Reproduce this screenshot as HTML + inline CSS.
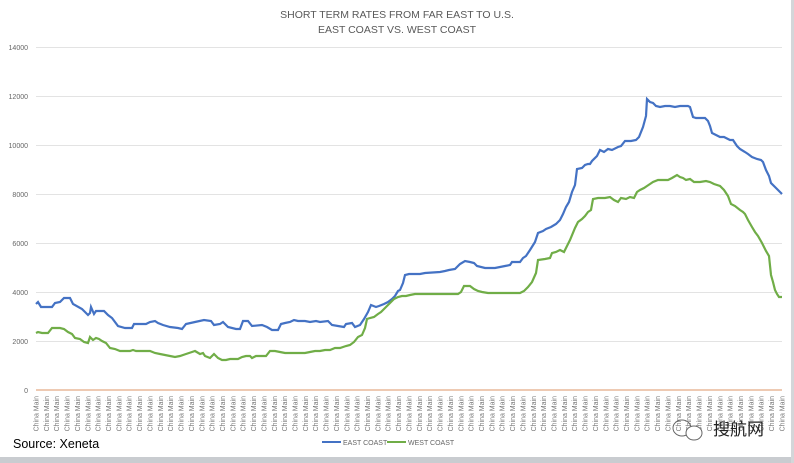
<!DOCTYPE html>
<html><head><style>
body{margin:0;background:#fff;}
svg{display:block;font-family:"Liberation Sans",sans-serif;}
</style></head><body>
<svg width="794" height="463" viewBox="0 0 794 463">
<rect x="0" y="0" width="794" height="463" fill="#fff"/>
<rect x="0" y="457" width="794" height="6" fill="#c9ccd0"/>
<rect x="791" y="0" width="3" height="463" fill="#d4d6d9"/>
<text x="397" y="18" font-size="10.5" fill="#595959" text-anchor="middle">SHORT TERM RATES FROM FAR EAST TO U.S.</text>
<text x="397" y="33" font-size="10.5" fill="#595959" text-anchor="middle">EAST COAST VS. WEST COAST</text>
<g stroke="#e3e3e3" stroke-width="1">
<line x1="36" x2="782" y1="47.5" y2="47.5"/><line x1="36" x2="782" y1="96.5" y2="96.5"/>
<line x1="36" x2="782" y1="145.5" y2="145.5"/><line x1="36" x2="782" y1="194.5" y2="194.5"/>
<line x1="36" x2="782" y1="243.5" y2="243.5"/><line x1="36" x2="782" y1="292.5" y2="292.5"/>
<line x1="36" x2="782" y1="341.5" y2="341.5"/>
</g>
<g font-size="7" fill="#666" text-anchor="end">
<text x="28" y="50">14000</text><text x="28" y="99">12000</text><text x="28" y="148">10000</text>
<text x="28" y="197">8000</text><text x="28" y="246">6000</text><text x="28" y="295">4000</text>
<text x="28" y="344">2000</text><text x="28" y="393">0</text>
</g>
<line x1="36" x2="782" y1="390" y2="390" stroke="#e8b89a" stroke-width="1.5"/>
<polyline fill="none" stroke="#4472c4" stroke-width="2.2" points="36,304 38,302 41,307 52,307 55,303 60,302 64,298 70,298 73,304 82,309 88,315 90,313 91,307 94,314 96,311 104,311 108,315 112,318 118,326 125,328 132,328 134,324 146,324 150,322 155,321 158,323 163,325 170,327 178,328 182,329 186,324 195,322 204,320 211,321 214,325 220,324 223,322 228,327 236,329 240,329 243,321 248,321 252,326 262,325 267,327 272,330 278,330 281,324 285,323 290,322 294,320 298,321 305,321 310,322 316,321 320,322 328,321 332,325 338,326 344,327 346,324 352,323 355,327 360,325 364,319 368,312 371,305 376,307 379,306 384,304 388,302 392,299 395,296 398,291 400,290 403,283 405,275 409,274 420,274 425,273 440,272 445,271 449,270 455,269 460,264 465,261 470,262 474,263 477,266 485,268 495,268 500,267 505,266 510,265 512,262 520,262 523,258 526,256 530,250 535,242 538,233 543,231 546,229 551,227 556,224 560,220 563,214 566,207 569,202 572,192 575,185 577,169 582,168 585,165 588,164 590,164 592,161 597,156 600,150 604,152 608,149 612,150 618,147 621,146 625,141 628,141 631,141 636,140 639,137 643,127 646,116 647,99 650,102 653,103 656,106 660,107 665,106 670,106 675,107 680,106 685,106 688,106 690,107 693,117 696,118 700,118 705,118 708,121 710,126 712,133 716,135 720,137 724,137 730,140 733,140 737,146 740,149 745,152 748,154 752,157 757,159 761,160 763,162 766,170 769,176 771,183 775,187 779,191 782,194"/>
<polyline fill="none" stroke="#70ad47" stroke-width="2.2" points="36,333 38,332 42,333 48,333 52,328 60,328 64,329 68,332 72,334 75,338 80,339 84,342 88,343 90,337 93,340 96,338 99,339 102,341 106,343 110,348 115,349 120,351 125,351 130,351 133,350 136,351 142,351 146,351 150,351 155,353 160,354 165,355 170,356 175,357 180,356 186,354 192,352 195,351 200,354 203,353 205,356 210,358 214,354 218,358 222,360 226,360 230,359 234,359 238,359 242,357 246,356 250,356 252,358 256,356 262,356 266,356 270,351 275,351 280,352 285,353 290,353 295,353 300,353 305,353 310,352 315,351 320,351 325,350 330,350 335,348 340,348 346,346 350,345 354,342 358,337 362,335 365,328 367,319 370,318 374,317 378,314 381,312 386,307 390,303 394,299 398,297 402,296 406,296 410,295 415,294 420,294 430,294 440,294 450,294 458,294 461,292 464,286 470,286 474,289 478,291 482,292 488,293 495,293 505,293 515,293 520,293 524,291 528,287 532,282 536,273 538,260 545,259 550,258 552,253 556,252 560,250 564,252 568,244 570,240 575,228 578,222 582,219 585,216 588,212 591,210 593,199 598,198 605,198 610,197 614,200 618,202 621,198 626,199 630,197 634,198 637,192 640,190 644,188 647,186 650,184 653,182 658,180 663,180 668,180 672,178 677,175 680,177 683,178 686,180 690,179 694,182 700,182 706,181 710,182 714,184 720,186 724,190 728,196 731,204 735,206 740,210 743,212 745,214 748,220 752,227 755,232 758,236 762,243 766,251 769,256 771,275 773,282 775,290 777,294 779,297 782,297"/>
<g font-size="7" fill="#777" text-anchor="end" transform="rotate(-90)">
<text x="-396" y="38.5">China Main</text><text x="-396" y="48.9">China Main</text><text x="-396" y="59.2">China Main</text><text x="-396" y="69.6">China Main</text><text x="-396" y="79.9">China Main</text><text x="-396" y="90.3">China Main</text><text x="-396" y="100.7">China Main</text><text x="-396" y="111">China Main</text><text x="-396" y="121.4">China Main</text><text x="-396" y="131.7">China Main</text><text x="-396" y="142.1">China Main</text><text x="-396" y="152.5">China Main</text><text x="-396" y="162.8">China Main</text><text x="-396" y="173.2">China Main</text><text x="-396" y="183.5">China Main</text><text x="-396" y="193.9">China Main</text><text x="-396" y="204.3">China Main</text><text x="-396" y="214.6">China Main</text><text x="-396" y="225">China Main</text><text x="-396" y="235.3">China Main</text><text x="-396" y="245.7">China Main</text><text x="-396" y="256.1">China Main</text><text x="-396" y="266.4">China Main</text><text x="-396" y="276.8">China Main</text><text x="-396" y="287.1">China Main</text><text x="-396" y="297.5">China Main</text><text x="-396" y="307.9">China Main</text><text x="-396" y="318.2">China Main</text><text x="-396" y="328.6">China Main</text><text x="-396" y="338.9">China Main</text><text x="-396" y="349.3">China Main</text><text x="-396" y="359.7">China Main</text><text x="-396" y="370">China Main</text><text x="-396" y="380.4">China Main</text><text x="-396" y="390.7">China Main</text><text x="-396" y="401.1">China Main</text><text x="-396" y="411.5">China Main</text><text x="-396" y="421.8">China Main</text><text x="-396" y="432.2">China Main</text><text x="-396" y="442.5">China Main</text><text x="-396" y="452.9">China Main</text><text x="-396" y="463.3">China Main</text><text x="-396" y="473.6">China Main</text><text x="-396" y="484">China Main</text><text x="-396" y="494.3">China Main</text><text x="-396" y="504.7">China Main</text><text x="-396" y="515.1">China Main</text><text x="-396" y="525.4">China Main</text><text x="-396" y="535.8">China Main</text><text x="-396" y="546.1">China Main</text><text x="-396" y="556.5">China Main</text><text x="-396" y="566.9">China Main</text><text x="-396" y="577.2">China Main</text><text x="-396" y="587.6">China Main</text><text x="-396" y="597.9">China Main</text><text x="-396" y="608.3">China Main</text><text x="-396" y="618.7">China Main</text><text x="-396" y="629">China Main</text><text x="-396" y="639.4">China Main</text><text x="-396" y="649.7">China Main</text><text x="-396" y="660.1">China Main</text><text x="-396" y="670.5">China Main</text><text x="-396" y="680.8">China Main</text><text x="-396" y="691.2">China Main</text><text x="-396" y="701.5">China Main</text><text x="-396" y="711.9">China Main</text><text x="-396" y="722.3">China Main</text><text x="-396" y="732.6">China Main</text><text x="-396" y="743">China Main</text><text x="-396" y="753.3">China Main</text><text x="-396" y="763.7">China Main</text><text x="-396" y="774.1">China Main</text><text x="-396" y="784.4">China Main</text>
</g>
<text x="13" y="448" font-size="12.5" fill="#000">Source: Xeneta</text>
<line x1="322" x2="341" y1="442" y2="442" stroke="#4472c4" stroke-width="2"/>
<text x="343" y="445" font-size="7" fill="#666">EAST COAST</text>
<line x1="387" x2="406" y1="442" y2="442" stroke="#70ad47" stroke-width="2"/>
<text x="408" y="445" font-size="7" fill="#666">WEST COAST</text>
<g fill="none" stroke="#666" stroke-width="1">
<ellipse cx="682" cy="428" rx="9" ry="8"/><ellipse cx="694" cy="433" rx="8" ry="7" fill="#fff"/>
</g>
<text x="713" y="435" font-size="17" fill="#222" font-family="'Noto Sans CJK SC',sans-serif">搜航网</text>
</svg>
</body></html>
